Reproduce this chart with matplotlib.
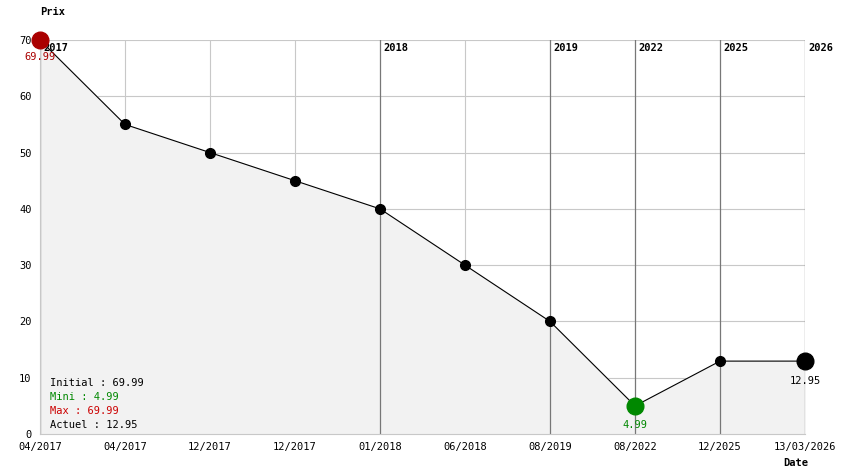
import matplotlib
matplotlib.use("Agg")
import matplotlib.pyplot as plt

labels = ["04/2017","04/2017","12/2017","12/2017","01/2018","06/2018","08/2019","08/2022","12/2025","13/03/2026"]
prices = [69.99,55,50,45,40,30,20,4.99,12.95,12.95]
year_lines = {0:"2017",4:"2018",6:"2019",7:"2022",8:"2025",9:"2026"}
yticks = [0,10,20,30,40,50,60,70]

plt.rcParams['font.family'] = ['DejaVu Sans Mono']
fig = plt.figure(figsize=(8.44,4.74), dpi=100)
ax = fig.add_axes([40/844, 40/474, 765/844, 394/474])
x = list(range(len(prices)))
ax.set_xlim(0, len(prices)-1)
ax.set_ylim(0, 70)
for yv in yticks:
    ax.axhline(yv, color="#c8c8c8", lw=0.8, zorder=0)
for i in x:
    if i in year_lines:
        ax.axvline(i, color="#777777", lw=0.9, zorder=0.5)
        ax.text(i+0.04, 68.5, year_lines[i], fontsize=7.5, fontweight="bold", va="center", ha="left", zorder=1)
    else:
        ax.axvline(i, color="#c8c8c8", lw=0.8, zorder=0)
ax.fill_between(x, prices, 0, color="#f2f2f2", zorder=0.2)
ax.plot(x, prices, color="black", lw=0.8, marker="o", ms=7, zorder=2, clip_on=False)
imin = prices.index(min(prices))
ax.plot([0],[prices[0]], "o", color="#aa0000", ms=12, zorder=3, clip_on=False)
ax.plot([imin],[prices[imin]], "o", color="#008800", ms=12, zorder=3, clip_on=False)
ax.plot([x[-1]],[prices[-1]], "o", color="black", ms=12, zorder=3, clip_on=False)
ax.text(0, prices[0]-3.5, f"{prices[0]:.2f}", color="#aa0000", fontsize=7.5, ha="center")
ax.text(imin, prices[imin]-4, f"{prices[imin]:.2f}", color="#008800", fontsize=7.5, ha="center")
ax.text(x[-1], prices[-1]-4, f"{prices[-1]:.2f}", color="black", fontsize=7.5, ha="center")
ax.set_xticks(x)
ax.set_xticklabels(labels, fontsize=7.5)
ax.set_yticks(yticks)
ax.set_yticklabels([str(v) for v in yticks], fontsize=7.5)
ax.tick_params(length=0, pad=6)
for s in ax.spines.values():
    s.set_visible(False)
ax.spines["left"].set_visible(True); ax.spines["left"].set_color("#c8c8c8")
ax.spines["bottom"].set_visible(True); ax.spines["bottom"].set_color("#c8c8c8")
lx = 0.12
ax.text(lx, 8.5, f"Initial : {prices[0]:.2f}", fontsize=7.5, color="black")
ax.text(lx, 6.0, f"Mini : {min(prices):.2f}", fontsize=7.5, color="#008800")
ax.text(lx, 3.5, f"Max : {max(prices):.2f}", fontsize=7.5, color="#cc0000")
ax.text(lx, 1.0, f"Actuel : {prices[-1]:.2f}", fontsize=7.5, color="black")
fig.text(40/844, 1-12/474, "Prix", fontsize=7.5, fontweight="bold", va="center")
fig.text(783/844, 1-463/474, "Date", fontsize=7.5, fontweight="bold", va="center")
fig.savefig("out.png", dpi=100)
